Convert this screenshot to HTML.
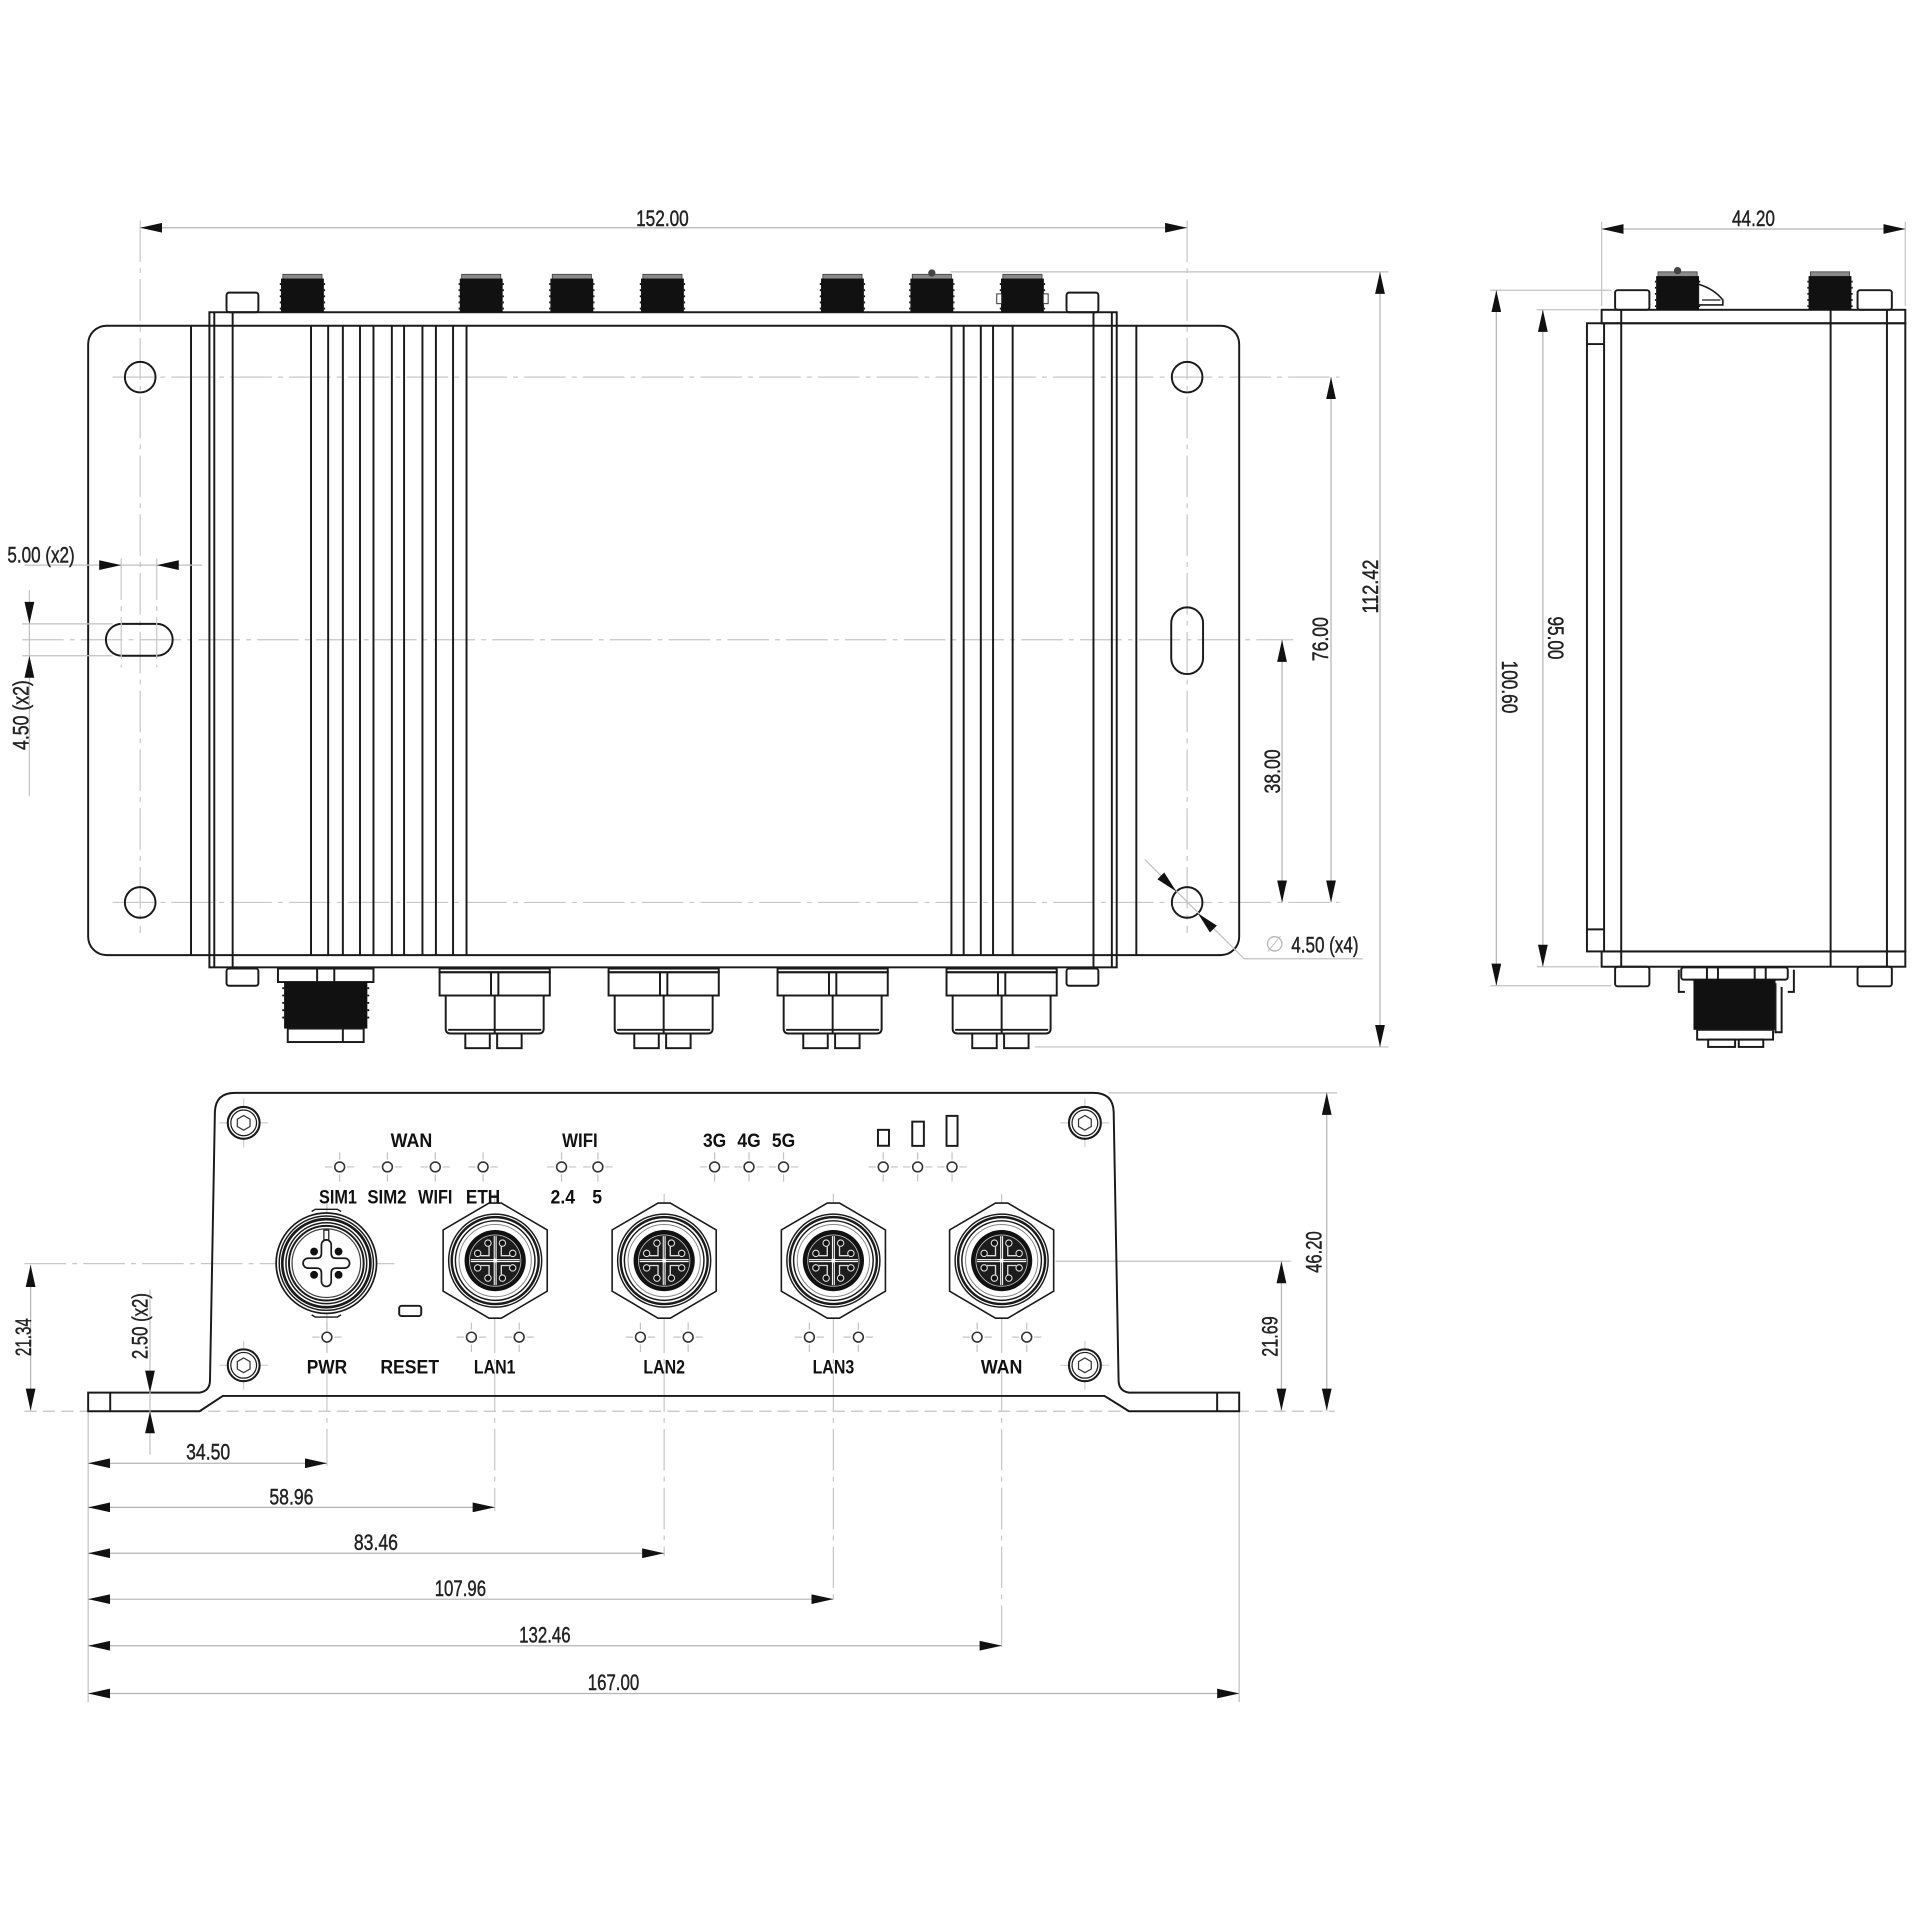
<!DOCTYPE html>
<html><head><meta charset="utf-8"><style>
html,body{margin:0;padding:0;background:#fff;}
svg{display:block}
.o{fill:none;stroke:#1a1a1a;stroke-width:1.6}
.t{fill:none;stroke:#c2c2c2;stroke-width:1}
.c{fill:none;stroke:#c8c8c8;stroke-width:1;stroke-dasharray:34 5 4 5}
.dl{fill:none;stroke:#b4b4b4;stroke-width:1}
.d{font-family:"Liberation Sans Narrow","Liberation Sans",sans-serif;font-size:18px;fill:#222;stroke:#222;stroke-width:0.35;text-anchor:middle}
.l{font-family:"Liberation Sans",sans-serif;font-weight:bold;font-size:16px;fill:#111;text-anchor:middle}
.ah{fill:#111}
</style></head><body>
<svg width="1920" height="1920" viewBox="0 0 1568 1568" xmlns="http://www.w3.org/2000/svg">
<defs>
<marker id="ar" viewBox="0 0 18 8" refX="18" refY="4" markerWidth="18" markerHeight="8" markerUnits="userSpaceOnUse" orient="auto-start-reverse"><path d="M0,0L18,4L0,8Z" fill="#111"/></marker>
<g id="sma">
<rect x="-16" y="0" width="32" height="4" fill="#8a8a8a" stroke="#333" stroke-width=".6"/>
<rect x="-17.5" y="3.5" width="35" height="27.5" fill="#111"/>
<path d="M-17.5,8h-1M-17.5,13h-1M-17.5,18h-1M-17.5,23h-1M-17.5,28h-1M17.5,8h1M17.5,13h1M17.5,18h1M17.5,23h1M17.5,28h1" stroke="#111" stroke-width="1.5"/>
</g>
<g id="led">
<path d="M-12,0H-6M6,0H12M0,-12V-6M0,6V12" stroke="#c4c4c4" stroke-width="1" fill="none"/>
<circle r="4" fill="#fff" stroke="#333" stroke-width="1.3"/>
</g>
<g id="screw">
<path d="M-20,0H20M0,-20V20" stroke="#d0d0d0" stroke-width="1" fill="none"/>
<circle r="13" fill="#fff" stroke="#1a1a1a" stroke-width="1.7"/>
<circle r="10.5" fill="none" stroke="#1a1a1a" stroke-width="1"/>
<polygon points="5.2,3 0,6 -5.2,3 -5.2,-3 0,-6 5.2,-3" fill="none" stroke="#333" stroke-width="1"/>
</g>
<g id="lan">
<polygon points="-5,-47 5,-47 42.5,-25 42.5,25 5,47 -5,47 -42.5,25 -42.5,-25" fill="#fff" stroke="#1a1a1a" stroke-width="1.3"/>
<circle r="38" fill="none" stroke="#1a1a1a" stroke-width="1.2"/>
<circle r="35.5" fill="none" stroke="#1a1a1a" stroke-width="2"/>
<circle r="32.5" fill="none" stroke="#1a1a1a" stroke-width="1.2"/>
<circle r="29.5" fill="none" stroke="#888" stroke-width="0.8"/>
<circle r="25" fill="#111"/>
<circle r="21" fill="#1c1c1c" stroke="#bbb" stroke-width="0.7"/>
<path d="M-20,0H20M0,-20V20" stroke="#fff" stroke-width="2.4"/>
<path d="M-20,0H20M0,-20V20" stroke="#333" stroke-width="0.7"/>
<path d="M-12,-4H-5V-12M12,-4H5V-12M-12,4H-5V12M12,4H5V12" stroke="#ddd" stroke-width="1.1" fill="none"/>
<g fill="#111" stroke="#ddd" stroke-width="0.9">
<circle cx="14.3" cy="5.9" r="2.6"/><circle cx="5.9" cy="14.3" r="2.6"/>
<circle cx="-5.9" cy="14.3" r="2.6"/><circle cx="-14.3" cy="5.9" r="2.6"/>
<circle cx="-14.3" cy="-5.9" r="2.6"/><circle cx="-5.9" cy="-14.3" r="2.6"/>
<circle cx="5.9" cy="-14.3" r="2.6"/><circle cx="14.3" cy="-5.9" r="2.6"/>
</g>
<circle r="1.6" fill="#fff"/>
</g>
<g id="pwr">
<circle r="41" fill="#fff" stroke="#1a1a1a" stroke-width="1.4"/>
<path d="M-12,-42.2L-9,-44H9L12,-42.2M-12,42.2L-9,44H9L12,42.2" fill="none" stroke="#1a1a1a" stroke-width="1.2"/>
<circle r="38.5" fill="none" stroke="#1a1a1a" stroke-width="1.2"/>
<circle r="36" fill="none" stroke="#1a1a1a" stroke-width="2.2"/>
<circle r="33" fill="none" stroke="#1a1a1a" stroke-width="1.2"/>
<circle r="30.5" fill="none" stroke="#1a1a1a" stroke-width="1.6"/>
<circle r="28" fill="none" stroke="#444" stroke-width="1"/>
<path d="M-4,-15A4,4 0 0 1 4,-15L4,-8Q4,-4 8,-4L15,-4A4,4 0 0 1 15,4L8,4Q4,4 4,8L4,15A4,4 0 0 1 -4,15L-4,8Q-4,4 -8,4L-15,4A4,4 0 0 1 -15,-4L-8,-4Q-4,-4 -4,-8Z" fill="none" stroke="#1a1a1a" stroke-width="1.4"/>
<rect x="-2" y="-27" width="4" height="8" fill="none" stroke="#1a1a1a" stroke-width="1"/>
<circle cx="-10" cy="-9.5" r="3.2" fill="#111"/><circle cx="10" cy="-9.5" r="3.2" fill="#111"/>
<circle cx="-10" cy="9.5" r="3.2" fill="#111"/><circle cx="10" cy="9.5" r="3.2" fill="#111"/>
</g>
<g id="lanb">
<rect x="-45" y="0" width="90" height="3" class="o" stroke-width="1.2"/>
<rect x="-45" y="3" width="90" height="19" class="o" stroke-width="1.4"/>
<path d="M-3,3V22M3,3V22" class="o" stroke-width="1.1"/>
<path d="M-40,22V49Q-40,53 -36,53H36Q40,53 40,49V22" class="o" stroke-width="1.4"/>
<path d="M0,22V53M-38,50H38" class="o" stroke-width="1.1"/>
<rect x="-24" y="53" width="20" height="12" class="o" stroke-width="1.3"/>
<rect x="2" y="53" width="20" height="12" class="o" stroke-width="1.3"/>
</g>
</defs>

<!-- ================= TOP VIEW ================= -->
<line x1="114.5" y1="180" x2="114.5" y2="762" class="c"/>
<line x1="969.5" y1="180" x2="969.5" y2="762" class="c"/>
<line x1="92" y1="308" x2="1094" y2="308" class="c"/>
<line x1="18" y1="522.5" x2="1056" y2="522.5" class="c"/>
<line x1="92" y1="737" x2="1094" y2="737" class="c"/>
<line x1="776" y1="222" x2="1134" y2="222" class="t"/>
<line x1="845" y1="855" x2="1134" y2="855" class="t"/>

<rect x="72" y="266" width="940" height="514" rx="15" class="o"/>
<rect x="171" y="255" width="741" height="535" class="o"/>
<path d="M175,255V790M908,255V790M190,255V790M893,255V790" class="o" stroke-width="1.4"/>
<path d="M156,266V780M928,266V780" class="o" stroke-width="1.4"/>
<path d="M254,266V780M268,266V780M280,266V780M294,266V780M305,266V780M320,266V780M330,266V780M345,266V780M356,266V780M370,266V780M381,266V780" class="o" stroke-width="1.7"/>
<path d="M777,266V780M787,266V780M801,266V780M811,266V780M827,266V780" class="o" stroke-width="1.7"/>

<circle cx="114.5" cy="308" r="12.5" class="o" stroke-width="1.4"/>
<circle cx="969.5" cy="308" r="12.5" class="o" stroke-width="1.4"/>
<circle cx="114.5" cy="737" r="12.5" class="o" stroke-width="1.4"/>
<circle cx="969.5" cy="737" r="12.5" class="o" stroke-width="1.4"/>
<rect x="86.5" y="509.5" width="54.5" height="26" rx="13" class="o" stroke-width="1.4"/>
<rect x="956.5" y="496" width="26" height="54.5" rx="13" class="o" stroke-width="1.4"/>

<use href="#sma" x="247" y="224"/>
<use href="#sma" x="393" y="224"/>
<use href="#sma" x="467" y="224"/>
<use href="#sma" x="541" y="224"/>
<use href="#sma" x="688" y="224"/>
<use href="#sma" x="761" y="224"/>
<use href="#sma" x="835" y="224"/>
<circle cx="761" cy="223" r="3" fill="#444"/>
<rect x="814" y="240" width="4" height="8" fill="#fff" stroke="#333" stroke-width=".8"/>
<rect x="852" y="240" width="4" height="8" fill="#fff" stroke="#333" stroke-width=".8"/>
<rect x="185" y="239" width="26" height="16" rx="2" class="o" stroke-width="1.4"/>
<rect x="871" y="239" width="26" height="16" rx="2" class="o" stroke-width="1.4"/>
<rect x="185" y="791" width="26" height="14" rx="2" class="o" stroke-width="1.4"/>
<rect x="871" y="791" width="26" height="14" rx="2" class="o" stroke-width="1.4"/>
<rect x="227" y="791" width="78" height="11" class="o" stroke-width="1.3"/>
<path d="M259,791V802M273,791V802" class="o" stroke-width="1.1"/>
<rect x="232" y="802" width="68" height="38" fill="#111"/>
<path d="M232,807h-1.5M232,813h-1.5M232,819h-1.5M232,825h-1.5M232,831h-1.5M300,807h1.5M300,813h1.5M300,819h1.5M300,825h1.5M300,831h1.5" stroke="#111" stroke-width="1.5"/>
<rect x="235" y="840" width="62" height="11" class="o" stroke-width="1.3"/>
<path d="M280,840V851" class="o" stroke-width="1"/>
<use href="#lanb" x="404" y="791"/>
<use href="#lanb" x="542" y="791"/>
<use href="#lanb" x="680" y="791"/>
<use href="#lanb" x="818" y="791"/>

<line x1="114.5" y1="186" x2="969.5" y2="186" class="dl" marker-start="url(#ar)" marker-end="url(#ar)"/>
<text class="d" x="541" y="184.5" textLength="43" lengthAdjust="spacingAndGlyphs">152.00</text>
<line x1="1127" y1="222" x2="1127" y2="855" class="dl" marker-start="url(#ar)" marker-end="url(#ar)"/>
<text class="d" transform="translate(1119,479) rotate(-90)" x="0" y="6.4" textLength="44" lengthAdjust="spacingAndGlyphs">112.42</text>
<line x1="1087" y1="308" x2="1087" y2="737" class="dl" marker-start="url(#ar)" marker-end="url(#ar)"/>
<text class="d" transform="translate(1078,522) rotate(-90)" x="0" y="6.4" textLength="36" lengthAdjust="spacingAndGlyphs">76.00</text>
<line x1="1047" y1="522.5" x2="1047" y2="737" class="dl" marker-start="url(#ar)" marker-end="url(#ar)"/>
<text class="d" transform="translate(1039,630) rotate(-90)" x="0" y="6.4" textLength="36" lengthAdjust="spacingAndGlyphs">38.00</text>

<line x1="20" y1="461.5" x2="165" y2="461.5" class="t"/>
<line x1="99" y1="456" x2="99" y2="545" class="c"/>
<line x1="128" y1="456" x2="128" y2="545" class="c"/>
<polygon class="ah" points="99,461.5 81,457.5 81,465.5"/>
<polygon class="ah" points="128,461.5 146,457.5 146,465.5"/>
<text class="d" x="33.5" y="459.5" textLength="55" lengthAdjust="spacingAndGlyphs">5.00 (x2)</text>
<line x1="24" y1="482" x2="24" y2="650" class="t"/>
<line x1="18" y1="509.5" x2="92" y2="509.5" class="t"/>
<line x1="18" y1="535.5" x2="92" y2="535.5" class="t"/>
<polygon class="ah" points="24,509.5 20,491.5 28,491.5"/>
<polygon class="ah" points="24,535.5 20,553.5 28,553.5"/>
<text class="d" transform="translate(17,584) rotate(-90)" x="0" y="6.4" textLength="57" lengthAdjust="spacingAndGlyphs">4.50 (x2)</text>
<path d="M935,702L1016,783H1113" class="t"/>
<polygon class="ah" points="960.7,728.1 945.2,718.1 950.8,712.5"/>
<polygon class="ah" points="978.3,745.9 988.1,761.5 993.8,755.9"/>
<text x="1041" y="777" font-family="Liberation Sans, sans-serif" font-size="18" fill="#bbb" text-anchor="middle">∅</text>
<text class="d" x="1082" y="778" textLength="55" lengthAdjust="spacingAndGlyphs">4.50 (x4)</text>

<!-- ================= SIDE VIEW ================= -->
<line x1="1308" y1="181" x2="1308" y2="250" class="t"/>
<line x1="1556" y1="181" x2="1556" y2="250" class="t"/>
<line x1="1217" y1="237" x2="1316" y2="237" class="t"/>
<line x1="1255" y1="253" x2="1306" y2="253" class="t"/>
<line x1="1255" y1="789.5" x2="1306" y2="789.5" class="t"/>
<line x1="1217" y1="805" x2="1316" y2="805" class="t"/>

<rect x="1296" y="264" width="260" height="513" class="o"/>
<rect x="1308" y="253" width="248" height="11" class="o" stroke-width="1.4"/>
<rect x="1308" y="777" width="248" height="12.5" class="o" stroke-width="1.4"/>
<path d="M1310,264V777M1296,281H1310M1296,759H1310" class="o" stroke-width="1.3"/>
<path d="M1324,253V789.5M1541,253V789.5" class="o" stroke-width="1.4"/>
<path d="M1495,253V789.5" class="o" stroke-width="2.4"/>
<rect x="1319" y="237" width="28" height="16" rx="2" class="o" stroke-width="1.4"/>
<rect x="1517" y="237" width="28" height="16" rx="2" class="o" stroke-width="1.4"/>
<rect x="1319" y="789.5" width="28" height="16" rx="2" class="o" stroke-width="1.4"/>
<rect x="1517" y="789.5" width="28" height="16" rx="2" class="o" stroke-width="1.4"/>
<use href="#sma" x="1370" y="222"/>
<use href="#sma" x="1494.5" y="222"/>
<circle cx="1370" cy="221" r="3" fill="#444"/>
<path d="M1387,232Q1400,236 1407,245L1407,249L1387,249Z" fill="#fff" stroke="#1a1a1a" stroke-width="1.3"/>
<path d="M1390,245H1405" stroke="#1a1a1a" stroke-width="1"/>
<path d="M1371,792V810H1376M1465,792V810H1460" class="o" stroke-width="1.1"/>
<rect x="1373" y="790" width="87" height="10" rx="2" class="o" stroke-width="1.3"/>
<path d="M1394,790V800M1403,790V800M1433,790V800M1442,790V800" class="o" stroke-width="1"/>
<rect x="1383" y="800" width="67" height="41" fill="#111"/>
<path d="M1450,803V843H1455V806" class="o" stroke-width="1"/>
<rect x="1386" y="841" width="62" height="8" class="o" stroke-width="1.2"/>
<rect x="1395" y="849" width="22" height="6" class="o" stroke-width="1.2"/>
<rect x="1420" y="849" width="20" height="6" class="o" stroke-width="1.2"/>

<line x1="1308" y1="187" x2="1556" y2="187" class="dl" marker-start="url(#ar)" marker-end="url(#ar)"/>
<text class="d" x="1432" y="184.5" textLength="35" lengthAdjust="spacingAndGlyphs">44.20</text>
<line x1="1222" y1="237" x2="1222" y2="805" class="dl" marker-start="url(#ar)" marker-end="url(#ar)"/>
<text class="d" transform="translate(1233,561) rotate(90)" x="0" y="6.4" textLength="43" lengthAdjust="spacingAndGlyphs">100.60</text>
<line x1="1260" y1="253" x2="1260" y2="789.5" class="dl" marker-start="url(#ar)" marker-end="url(#ar)"/>
<text class="d" transform="translate(1270.5,521) rotate(90)" x="0" y="6.4" textLength="35" lengthAdjust="spacingAndGlyphs">95.00</text>

<!-- ================= FRONT VIEW ================= -->
<line x1="20" y1="1152.5" x2="1090" y2="1152.5" stroke="#c4c4c4" stroke-width="1" stroke-dasharray="10 5"/>
<line x1="20" y1="1032" x2="322" y2="1032" class="c"/>
<line x1="862" y1="1030" x2="1054" y2="1030" class="t"/>
<line x1="905" y1="892.5" x2="1092" y2="892.5" class="t"/>
<line x1="72" y1="1152" x2="72" y2="1390" class="t"/>
<line x1="1012" y1="1152" x2="1012" y2="1390" class="t"/>
<line x1="267" y1="975" x2="267" y2="1197" class="c"/>
<line x1="404" y1="975" x2="404" y2="1234" class="c"/>
<line x1="542.4" y1="975" x2="542.4" y2="1271" class="c"/>
<line x1="680.6" y1="975" x2="680.6" y2="1309" class="c"/>
<line x1="818" y1="975" x2="818" y2="1347" class="c"/>

<path d="M72,1137.3L163,1137.3Q171.5,1136 171.5,1127L175.5,908Q176,892.5 192,892.5L893,892.5Q909,892.5 909.5,908L913.5,1127Q913.5,1136 922,1137.3L1012,1137.3L1012,1152.5L922,1152.5L902,1140L182,1140L163,1152.5L72,1152.5Z" class="o" stroke-width="1.7"/>
<path d="M90,1137.3V1152.5M994,1137.3V1152.5" class="o" stroke-width="1.2"/>

<use href="#screw" x="199" y="917"/>
<use href="#screw" x="886" y="917"/>
<use href="#screw" x="199" y="1115"/>
<use href="#screw" x="886" y="1115"/>

<use href="#led" x="277.4" y="953"/>
<use href="#led" x="316.4" y="953"/>
<use href="#led" x="355.5" y="953"/>
<use href="#led" x="394.5" y="953"/>
<use href="#led" x="458.6" y="953"/>
<use href="#led" x="488.3" y="953"/>
<use href="#led" x="583.6" y="953"/>
<use href="#led" x="611.7" y="953"/>
<use href="#led" x="639.9" y="953"/>
<use href="#led" x="721.3" y="953"/>
<use href="#led" x="749.4" y="953"/>
<use href="#led" x="777.5" y="953"/>
<use href="#led" x="267" y="1092"/>
<use href="#led" x="385" y="1092"/>
<use href="#led" x="424" y="1092"/>
<use href="#led" x="523" y="1092"/>
<use href="#led" x="562" y="1092"/>
<use href="#led" x="661" y="1092"/>
<use href="#led" x="701" y="1092"/>
<use href="#led" x="798" y="1092"/>
<use href="#led" x="838.5" y="1092"/>

<rect x="717" y="922.7" width="9" height="13" class="o" stroke-width="1.3"/>
<rect x="745" y="916" width="9.5" height="19.8" class="o" stroke-width="1.3"/>
<rect x="773" y="911.3" width="9" height="24.5" class="o" stroke-width="1.3"/>

<use href="#pwr" x="266.5" y="1031.6"/>
<use href="#lan" x="404.4" y="1029.5"/>
<use href="#lan" x="542.4" y="1029.5"/>
<use href="#lan" x="680.6" y="1029.5"/>
<use href="#lan" x="818" y="1029.5"/>
<rect x="326" y="1066.4" width="18" height="8.4" rx="2" class="o" stroke-width="1.3"/>

<text class="l" x="336" y="936.8" textLength="34" lengthAdjust="spacingAndGlyphs">WAN</text>
<text class="l" x="473.6" y="936.8" textLength="29" lengthAdjust="spacingAndGlyphs">WIFI</text>
<text class="l" x="583.6" y="936.8" textLength="19" lengthAdjust="spacingAndGlyphs">3G</text>
<text class="l" x="611.7" y="936.8" textLength="19" lengthAdjust="spacingAndGlyphs">4G</text>
<text class="l" x="639.9" y="936.8" textLength="19" lengthAdjust="spacingAndGlyphs">5G</text>
<text class="l" x="276" y="982.8" textLength="31" lengthAdjust="spacingAndGlyphs">SIM1</text>
<text class="l" x="316" y="982.8" textLength="32" lengthAdjust="spacingAndGlyphs">SIM2</text>
<text class="l" x="355.5" y="982.8" textLength="28" lengthAdjust="spacingAndGlyphs">WIFI</text>
<text class="l" x="394.5" y="982.8" textLength="28" lengthAdjust="spacingAndGlyphs">ETH</text>
<text class="l" x="459.6" y="982.8" textLength="20" lengthAdjust="spacingAndGlyphs">2.4</text>
<text class="l" x="487.7" y="982.8" textLength="8" lengthAdjust="spacingAndGlyphs">5</text>
<text class="l" x="267" y="1121.8" textLength="33" lengthAdjust="spacingAndGlyphs">PWR</text>
<text class="l" x="334.6" y="1121.8" textLength="48" lengthAdjust="spacingAndGlyphs">RESET</text>
<text class="l" x="404" y="1121.8" textLength="34" lengthAdjust="spacingAndGlyphs">LAN1</text>
<text class="l" x="542.4" y="1121.8" textLength="34" lengthAdjust="spacingAndGlyphs">LAN2</text>
<text class="l" x="680.6" y="1121.8" textLength="34" lengthAdjust="spacingAndGlyphs">LAN3</text>
<text class="l" x="818" y="1121.8" textLength="34" lengthAdjust="spacingAndGlyphs">WAN</text>

<line x1="25" y1="1033" x2="25" y2="1152" class="dl" marker-start="url(#ar)" marker-end="url(#ar)"/>
<text class="d" transform="translate(19,1092) rotate(-90)" x="0" y="6.4" textLength="31" lengthAdjust="spacingAndGlyphs">21.34</text>
<line x1="122.5" y1="1053" x2="122.5" y2="1188" class="t"/>
<polygon class="ah" points="122.5,1137.3 118.5,1119.3 126.5,1119.3"/>
<polygon class="ah" points="122.5,1152.5 118.5,1170.5 126.5,1170.5"/>
<text class="d" transform="translate(114,1083) rotate(-90)" x="0" y="6.4" textLength="54" lengthAdjust="spacingAndGlyphs">2.50 (x2)</text>

<line x1="1046.5" y1="1030" x2="1046.5" y2="1152" class="dl" marker-start="url(#ar)" marker-end="url(#ar)"/>
<text class="d" transform="translate(1037,1091.5) rotate(-90)" x="0" y="6.4" textLength="33" lengthAdjust="spacingAndGlyphs">21.69</text>
<line x1="1083.5" y1="892.5" x2="1083.5" y2="1152" class="dl" marker-start="url(#ar)" marker-end="url(#ar)"/>
<text class="d" transform="translate(1073,1022.5) rotate(-90)" x="0" y="6.4" textLength="34" lengthAdjust="spacingAndGlyphs">46.20</text>

<line x1="72" y1="1195" x2="267" y2="1195" class="dl" marker-start="url(#ar)" marker-end="url(#ar)"/>
<text class="d" x="170" y="1192" textLength="36" lengthAdjust="spacingAndGlyphs">34.50</text>
<line x1="72" y1="1231" x2="404" y2="1231" class="dl" marker-start="url(#ar)" marker-end="url(#ar)"/>
<text class="d" x="238" y="1228.5" textLength="36" lengthAdjust="spacingAndGlyphs">58.96</text>
<line x1="72" y1="1268.5" x2="542.4" y2="1268.5" class="dl" marker-start="url(#ar)" marker-end="url(#ar)"/>
<text class="d" x="307" y="1266" textLength="36" lengthAdjust="spacingAndGlyphs">83.46</text>
<line x1="72" y1="1306" x2="680.6" y2="1306" class="dl" marker-start="url(#ar)" marker-end="url(#ar)"/>
<text class="d" x="376" y="1303.5" textLength="42" lengthAdjust="spacingAndGlyphs">107.96</text>
<line x1="72" y1="1344" x2="818" y2="1344" class="dl" marker-start="url(#ar)" marker-end="url(#ar)"/>
<text class="d" x="445" y="1341.5" textLength="42" lengthAdjust="spacingAndGlyphs">132.46</text>
<line x1="72" y1="1383" x2="1012" y2="1383" class="dl" marker-start="url(#ar)" marker-end="url(#ar)"/>
<text class="d" x="501" y="1380" textLength="42" lengthAdjust="spacingAndGlyphs">167.00</text>
</svg>
</body></html>
